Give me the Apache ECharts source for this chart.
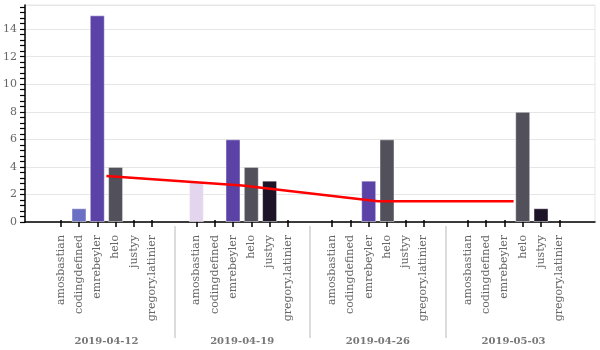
<!DOCTYPE html>
<html>
<head>
<meta charset="utf-8">
<script src="https://cdn.jsdelivr.net/npm/echarts@6/dist/echarts.min.js"></script>
<style>
  html, body { margin: 0; padding: 0; background: #fff; }
  #chart { width: 600px; height: 350px; }
</style>
</head>
<body>
<div id="chart"></div>
<script>
// weeks and users
var weeks = ['2019-04-12', '2019-04-19', '2019-04-26', '2019-05-03'];
var users = ['amosbastian', 'codingdefined', 'emrebeyler', 'helo', 'justyy', 'gregory.latinier'];

// one array per user, one value per week
var amosbastian = [0, 2.9, 0, 0];
var codingdefined = [1, 0, 0, 0];
var emrebeyler = [15, 6, 3, 0];
var helo = [4, 4, 6, 8];
var justyy = [0, 3, 0, 1];
var gregoryLatinier = [0, 0, 0, 0];
var userValues = [amosbastian, codingdefined, emrebeyler, helo, justyy, gregoryLatinier];

// weekly average (red line)
var weekAverage = [3.33, 2.65, 1.5, 1.5];

var userColors = ['#e3d5ee', '#6c70c4', '#5b42a6', '#52505b', '#1e1428', '#8a7fb8'];

// y ticks every 0.4
var yMax = 15.75;
var yTickValues = [];
for (var t = 0; t <= 39; t++) yTickValues.push(Math.round(t * 0.4 * 10) / 10);

// layout of the x axis (weeks on a value scale so groups sit like the original)
var gridLeft = 25, gridRight = 5;
var plotW = 600 - gridLeft - gridRight;
var xMin = -0.6, xMax = 3.6;
var barWidth = 15, barGap = 0.22;
var slotUnit = barWidth * (1 + barGap) * (xMax - xMin) / plotW;

var userTickValues = [];
weeks.forEach(function (w, g) {
    users.forEach(function (u, i) {
        userTickValues.push(g + (i - 2.5) * slotUnit);
    });
});

var serifFont = 'DejaVu Serif';

var series = users.map(function (name, i) {
    return {
        name: name,
        type: 'bar',
        barWidth: barWidth,
        barGap: (barGap * 100) + '%',
        itemStyle: { color: userColors[i], borderColor: 'rgba(255,255,255,0.45)', borderWidth: 1 },
        data: userValues[i].map(function (v, g) { return v ? [g, v] : [g, '-']; })
    };
});
series.push({
    name: 'average',
    type: 'line',
    showSymbol: false,
    z: 5,
    lineStyle: { color: '#ff0000', width: 2.5 },
    data: weekAverage.map(function (v, g) { return [g, v]; })
});

var chart = echarts.init(document.getElementById('chart'));
chart.setOption({
    animation: false,
    grid: {
        left: gridLeft,
        right: gridRight,
        top: 5,
        bottom: 128,
        show: true,
        borderColor: '#e6e6e6',
        borderWidth: 1
    },
    xAxis: [
        {
            type: 'value',
            min: xMin,
            max: xMax,
            axisLine: { show: true, onZero: false, lineStyle: { color: '#000', width: 1.5 } },
            axisTick: { show: false },
            axisLabel: { show: false },
            splitLine: { show: false }
        },
        {
            // user names
            type: 'value',
            min: xMin,
            max: xMax,
            position: 'bottom',
            offset: -2,
            axisLine: { show: false, onZero: false },
            axisTick: { show: true, customValues: userTickValues, length: 7, lineStyle: { color: '#000', width: 1.5 } },
            axisLabel: {
                customValues: userTickValues,
                rotate: 90,
                margin: 15,
                fontFamily: serifFont,
                fontSize: 11,
                color: '#666',
                formatter: function (value) {
                    var g = Math.round(value);
                    var i = Math.round((value - g) / slotUnit + 2.5);
                    return users[i];
                }
            },
            splitLine: { show: false }
        },
        {
            // week labels and separators
            type: 'value',
            min: xMin,
            max: xMax,
            position: 'bottom',
            offset: 4,
            axisLine: { show: false, onZero: false },
            axisTick: { show: true, customValues: [0.5, 1.5, 2.5], length: 112, lineStyle: { color: '#dcdcdc', width: 2 } },
            axisLabel: {
                customValues: [0, 1, 2, 3],
                margin: 110,
                fontFamily: serifFont,
                fontSize: 10,
                fontWeight: 'bold',
                color: '#777',
                formatter: function (value) { return weeks[Math.round(value)]; }
            },
            splitLine: { show: false }
        }
    ],
    yAxis: [
        {
            type: 'value',
            min: 0,
            max: yMax,
            interval: 2,
            axisLine: { show: true, onZero: false, lineStyle: { color: '#000', width: 1.5 } },
            axisTick: { show: false },
            axisLabel: { showMaxLabel: false, margin: 8, fontFamily: serifFont, fontSize: 11, color: '#666' },
            splitLine: { show: true, lineStyle: { color: '#e6e6e6', width: 1 } }
        },
        {
            type: 'value',
            min: 0,
            max: yMax,
            position: 'left',
            axisLine: { show: false, onZero: false },
            axisTick: { show: true, customValues: yTickValues, length: 5, lineStyle: { color: '#000', width: 1.2 } },
            axisLabel: { show: false },
            splitLine: { show: false }
        }
    ],
    series: series
});
</script>
</body>
</html>
